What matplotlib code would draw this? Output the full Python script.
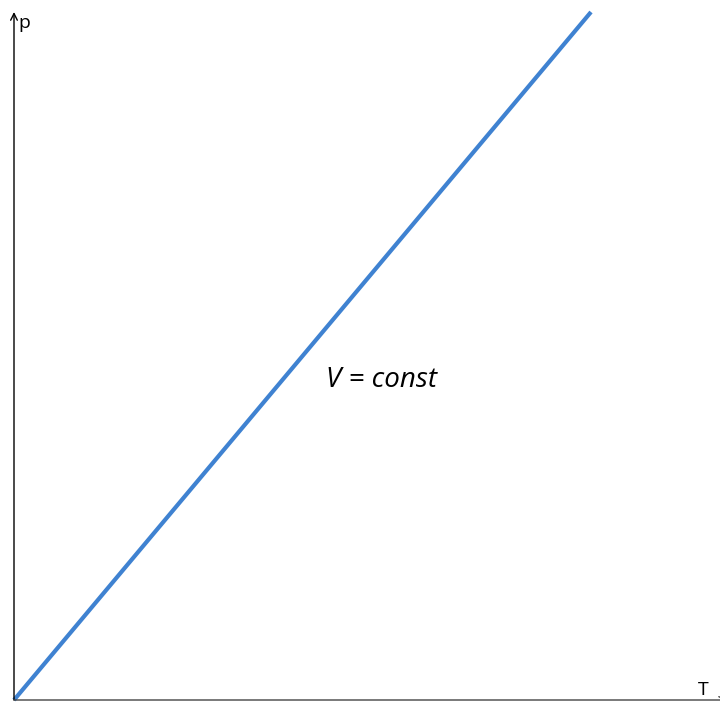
import matplotlib.pyplot as plt

# ── Data ───────────────────────────────────────────────────────────────────────
T_vals = [0.0, 1.0]
p_vals = [0.0, 1.0]
LINE_LABEL = 'V = const'
LINE_COLOUR = '#3f82d1'

W, H = 720, 702
fig = plt.figure(figsize=(W / 100, H / 100), dpi=100)

# axes from the pixel frame of the reference
x0, y0 = 14, 700      # origin (pixels, top-left based)
x1, y1 = 720, 12      # right edge / top of line
ax = fig.add_axes([x0 / W, (H - y0) / H, (x1 - x0) / W, (y0 - y1) / H])
ax.plot(T_vals, p_vals, color=LINE_COLOUR, linewidth=3.0, solid_capstyle='butt',
        clip_on=False)
ax.set_xlim(0, (x1 - x0) / (591 - x0))
ax.set_ylim(0, 1)
ax.axis('off')

# axis arrows
arrow_kw = dict(arrowstyle='->', color='black', lw=1.0, mutation_scale=12,
                shrinkA=0, shrinkB=0)
ax.annotate('', xy=(0, 1.0), xytext=(0, 0), xycoords='axes fraction',
            arrowprops=arrow_kw, annotation_clip=False)
ax.annotate('', xy=(1.01, 0), xytext=(0, 0), xycoords='axes fraction',
            arrowprops=dict(arrow_kw, color='#444444'), annotation_clip=False)

fig.text(24 / W, 1 - 23 / H, 'p', fontsize=14, family='Open Sans',
         ha='center', va='center')
fig.text(703 / W, 1 - 690 / H, 'T', fontsize=14, family='Open Sans',
         ha='center', va='center')
fig.text(382 / W, 1 - 380 / H, LINE_LABEL, fontsize=20, family='Open Sans',
         style='italic', ha='center', va='center')

fig.savefig('out.png', dpi=100)
